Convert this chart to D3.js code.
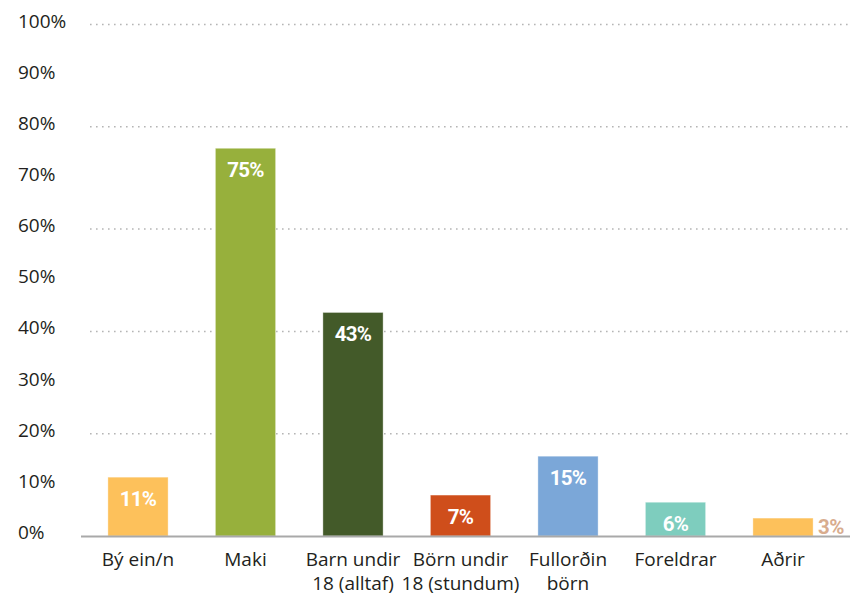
<!DOCTYPE html>
<html>
<head>
<meta charset="utf-8">
<script src="https://cdn.jsdelivr.net/npm/d3@7"></script>
<style>
  html, body { margin: 0; padding: 0; background: #fff; }
  svg { display: block; }
</style>
</head>
<body>
<svg id="chart" width="850" height="595"></svg>
<script>
// Data
const categories = [
  ["Bý ein/n"],
  ["Maki"],
  ["Barn undir", "18 (alltaf)"],
  ["Börn undir", "18 (stundum)"],
  ["Fullorðin", "börn"],
  ["Foreldrar"],
  ["Aðrir"]
];
const values = [11.5, 75.8, 43.7, 8.0, 15.6, 6.6, 3.5];
const valueLabels = ["11%", "75%", "43%", "7%", "15%", "6%", "3%"];
const colors = ["#FDC15B", "#97B03C", "#435A29", "#CF4E1B", "#7BA7D8", "#7ECDBE", "#FDC15B"];
const yTicks = [0, 10, 20, 30, 40, 50, 60, 70, 80, 90, 100];
const gridTicks = [20, 40, 60, 80, 100];

const svg = d3.select("#chart");
const font = "'Open Sans', Lato, sans-serif";

const y = d3.scaleLinear().domain([0, 100]).range([536, 24.5]);
const x = d3.scaleBand()
  .domain(d3.range(categories.length))
  .range([84.25, 836.75])
  .paddingInner(0.44)
  .paddingOuter(0.22);

// Gridlines (dotted)
svg.append("g").selectAll("line")
  .data(gridTicks).join("line")
  .attr("x1", 90).attr("x2", 850)
  .attr("y1", d => y(d)).attr("y2", d => y(d))
  .attr("stroke", "#b5b5b5")
  .attr("stroke-width", 1.5)
  .attr("stroke-dasharray", "1.6,4.4");

// Y labels
svg.append("g").selectAll("text")
  .data(yTicks).join("text")
  .attr("x", 18)
  .attr("y", d => y(d) - 4)
  .attr("dominant-baseline", "central")
  .attr("font-family", font)
  .attr("font-size", 19)
  .attr("fill", "#231f20")
  .text(d => d + "%");

// Bars
svg.append("g").selectAll("rect")
  .data(values).join("rect")
  .attr("x", (d, i) => x(i))
  .attr("width", x.bandwidth())
  .attr("y", d => y(d))
  .attr("height", d => y(0) - y(d))
  .attr("fill", (d, i) => colors[i])
  .attr("stroke", "rgba(255,255,255,0.35)")
  .attr("stroke-width", 1);

// Axis baseline
svg.append("line")
  .attr("x1", 81).attr("x2", 850)
  .attr("y1", 536.5).attr("y2", 536.5)
  .attr("stroke", "#a9a9a9")
  .attr("stroke-width", 2);

// Value labels
const inside = d => y(0) - y(d) > 30;
svg.append("g").selectAll("text")
  .data(values).join("text")
  .attr("x", (d, i) => inside(d) ? x(i) + x.bandwidth() / 2 : x(i) + x.bandwidth() + 5)
  .attr("y", d => inside(d) ? y(d) + 22 : (y(d) + y(0)) / 2)
  .attr("text-anchor", d => inside(d) ? "middle" : "start")
  .attr("dominant-baseline", "central")
  .attr("font-family", "Roboto, sans-serif")
  .attr("font-weight", 700)
  .attr("font-size", 20.5)
  .attr("letter-spacing", -0.7)
  .attr("fill", d => inside(d) ? "#ffffff" : "#D8AC8E")
  .text((d, i) => valueLabels[i]);

// X labels
const xl = svg.append("g").selectAll("text")
  .data(categories).join("text")
  .attr("x", (d, i) => x(i) + x.bandwidth() / 2)
  .attr("y", 566)
  .attr("text-anchor", "middle")
  .attr("font-family", font)
  .attr("font-size", 19)
  .attr("fill", "#231f20");
xl.selectAll("tspan")
  .data(d => d).join("tspan")
  .attr("x", function() { return this.parentNode.getAttribute("x"); })
  .attr("dy", (d, j) => j === 0 ? 0 : 24)
  .text(d => d);
</script>
</body>
</html>
